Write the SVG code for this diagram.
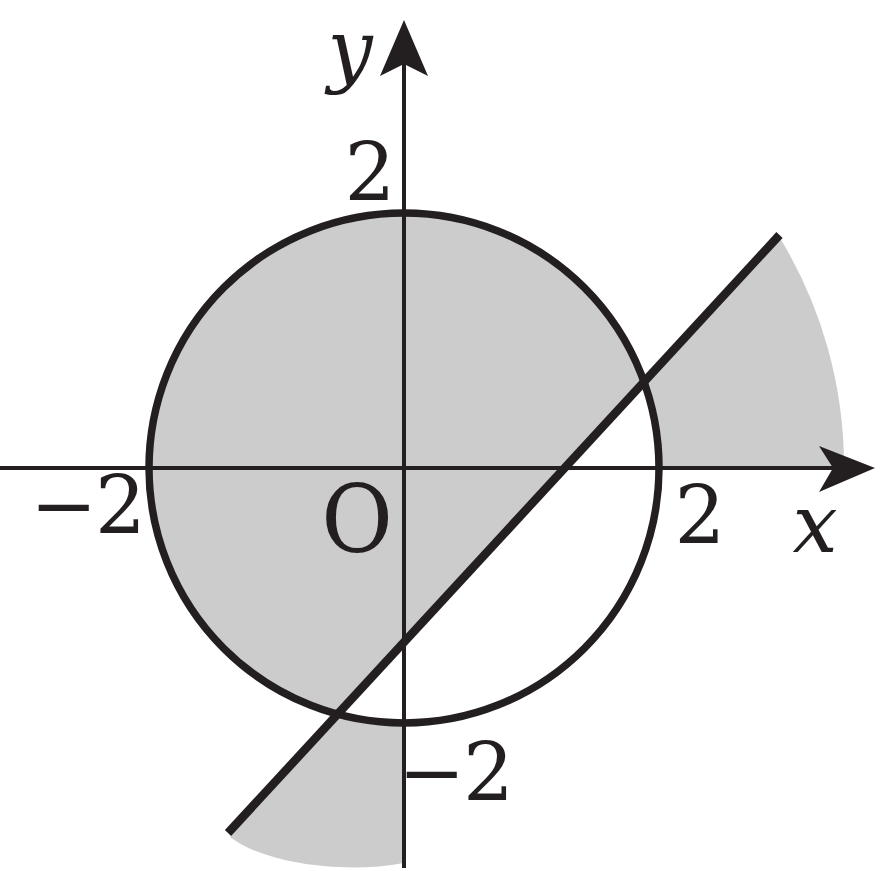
<svg xmlns="http://www.w3.org/2000/svg" width="891" height="871" viewBox="0 0 891 871">
<style>
.shade{fill:#cccccc;stroke:none}
.axis{stroke:#231f20;stroke-width:4;fill:none}
.ah{fill:#231f20;stroke:none}
.curve{stroke:#231f20;fill:none}
.lbl{font-family:'DejaVu Serif','Liberation Serif',serif;font-size:80px;fill:#231f20;text-anchor:middle}
.it{font-style:italic}
.big{font-size:94px}
</style>
<rect width="891" height="871" fill="#ffffff"/>
<g id="region">
<path class="shade" d="M643.9,381.6 A255,255 0 1,0 337.5,714.2 Z"/>
<path class="shade" d="M643.9,381.6 L780,238 A440,440 0 0,1 844,468 L659,468 A255,255 0 0,0 643.9,381.6 Z"/>
<path class="shade" d="M337.5,714.2 L230,837 C262,862 340,875 404,863 L404,723 A255,255 0 0,1 337.5,714.2 Z"/>
</g>
<g id="connectors">
<line class="axis" x1="0" y1="468" x2="834" y2="468"/>
<polygon class="ah" points="875,468 819,446 833,468 819,492"/>
<line class="axis" x1="404" y1="868" x2="404" y2="64"/>
<polygon class="ah" points="404,20 380,76 404,64 428,76"/>
</g>
<g id="circle">
<circle class="curve" cx="404" cy="468" r="255" stroke-width="7.5"/>
</g>
<g id="line">
<line class="curve" x1="779.5" y1="235" x2="228" y2="833" stroke-width="8.5"/>
</g>
<g id="labels">
<text class="lbl it" x="350" y="77">y</text>
<text class="lbl" x="370" y="200">2</text>
<text class="lbl" x="63.5" y="533">−</text>
<text class="lbl" x="120.5" y="533">2</text>
<text class="lbl big" x="0" y="0" transform="translate(357,552) scale(0.93,1)">O</text>
<text class="lbl" x="700" y="543">2</text>
<text class="lbl it" x="815" y="552">x</text>
<text class="lbl" x="431.5" y="800">−</text>
<text class="lbl" x="488.5" y="800">2</text>
</g>
</svg>
